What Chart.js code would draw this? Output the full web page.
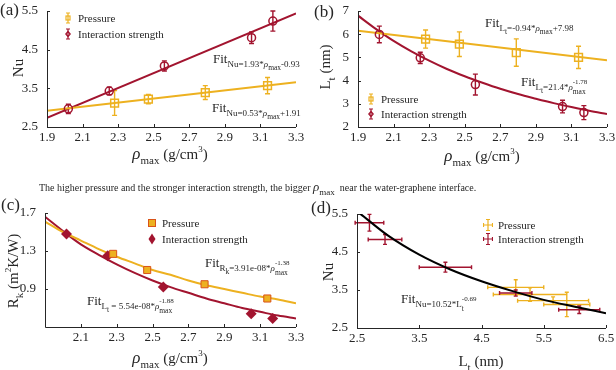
<!DOCTYPE html>
<html>
<head>
<meta charset="utf-8">
<title>rho_max vs Nu, Lt and Rk</title>
<script src="https://cdn.jsdelivr.net/npm/chart.js@4.4.1/dist/chart.umd.min.js"></script>
<style>
  html, body { margin: 0; padding: 0; background: #fff; overflow: hidden; }
  #fig { position: relative; width: 616px; height: 370px; font-family: "Liberation Serif", "Times New Roman", serif; color: #262626; }
  #fig canvas { position: absolute; }
  .txt { position: absolute; white-space: nowrap; line-height: 1; z-index: 2; }
  .lbl { font-size: 17px; }
  .ttl { font-size: 15px; transform: translate(-50%, -50%); }
  .rot { transform: translate(-50%, -50%) rotate(-90deg); }
  .ttl i { font-size: 17px; }
  .ttl sub { font-size: 11px; vertical-align: -5px; line-height: 0; }
  .ttl sup { font-size: 9px; vertical-align: 7px; line-height: 0; }
  .fit { font-size: 13px; }
  .s1 { font-size: 9px; vertical-align: -4px; }
  .s2 { font-size: 7.5px; vertical-align: -3px; }
  .stk { display: inline-block; position: relative; width: 15px; height: 0; }
  .stk .up { position: absolute; left: 0; top: -11px; font-size: 7px; }
  .stk .dn { position: absolute; left: 0; top: -2px; font-size: 7.5px; }
  .leg { font-size: 11px; display: flex; align-items: center; height: 12px; }
  .leg svg { margin-right: 5px; }
  .cap { font-size: 10px; }
  .cap i { font-size: 13px; }
  .cap sub { font-size: 9px; vertical-align: -4px; line-height: 0; }
</style>
</head>
<body>
<div id="fig">
  <canvas id="pa"></canvas>
  <canvas id="pb"></canvas>
  <canvas id="pc"></canvas>
  <canvas id="pd"></canvas>

  <!-- panel letters -->
  <div class="txt lbl" style="left:0px;top:1px">(a)</div>
  <div class="txt lbl" style="left:314px;top:3px">(b)</div>
  <div class="txt lbl" style="left:1px;top:196px">(c)</div>
  <div class="txt lbl" style="left:311px;top:199px">(d)</div>

  <!-- axis titles -->
  <div class="txt ttl" style="left:170px;top:153px"><i>ρ</i><sub>max</sub> (g/cm<sup>3</sup>)</div>
  <div class="txt ttl rot" style="left:18px;top:68px">Nu</div>
  <div class="txt ttl" style="left:482px;top:155px"><i>ρ</i><sub>max</sub> (g/cm<sup>3</sup>)</div>
  <div class="txt ttl rot" style="left:325px;top:67px">L<sub>t</sub> (nm)</div>
  <div class="txt ttl" style="left:170px;top:357px"><i>ρ</i><sub>max</sub> (g/cm<sup>3</sup>)</div>
  <div class="txt ttl rot" style="left:13px;top:271px">R<sub>k</sub> (m<sup>2</sup>K/W)</div>
  <div class="txt ttl" style="left:481px;top:361px">L<sub>t</sub> (nm)</div>
  <div class="txt ttl rot" style="left:328px;top:272px">Nu</div>

  <!-- fit annotations -->
  <div class="txt fit" style="left:213px;top:52px">Fit<span class="s1">Nu=1.93*<i>ρ</i><span class="s2">max</span>-0.93</span></div>
  <div class="txt fit" style="left:212px;top:101px">Fit<span class="s1">Nu=0.53*<i>ρ</i><span class="s2">max</span>+1.91</span></div>
  <div class="txt fit" style="left:485px;top:16px">Fit<span class="s1">L<span class="s2">t</span>=-0.94*<i>ρ</i><span class="s2">max</span>+7.98</span></div>
  <div class="txt fit" style="left:521px;top:75px">Fit<span class="s1">L<span class="s2">t</span>=21.4*<i>ρ</i><span class="stk"><span class="up">-1.78</span><span class="dn">max</span></span></span></div>
  <div class="txt fit" style="left:205px;top:256px">Fit<span class="s1">R<span class="s2">k</span>=3.91e-08*<i>ρ</i><span class="stk"><span class="up">-1.38</span><span class="dn">max</span></span></span></div>
  <div class="txt fit" style="left:87px;top:294px">Fit<span class="s1">L<span class="s2">t</span> = 5.54e-08*<i>ρ</i><span class="stk"><span class="up">-1.88</span><span class="dn">max</span></span></span></div>
  <div class="txt fit" style="left:401px;top:292px">Fit<span class="s1">Nu=10.52*L<span class="stk"><span class="up">-0.69</span><span class="dn">t</span></span></span></div>

  <!-- legends -->
  <div class="txt leg" style="left:63px;top:12px"><svg width="10" height="12"><path d="M5 1V11M3 1H7M3 11H7" stroke="#EDB120" stroke-width="1.2" fill="none"/><rect x="3" y="4" width="4" height="4" fill="none" stroke="#EDB120" stroke-width="1.2"/></svg>Pressure</div>
  <div class="txt leg" style="left:63px;top:28px"><svg width="10" height="12"><path d="M5 1V11M3 1H7M3 11H7" stroke="#A2142F" stroke-width="1.2" fill="none"/><path d="M5 3.5L7.2 6L5 8.5L2.8 6Z" fill="none" stroke="#A2142F" stroke-width="1.2"/></svg>Interaction strength</div>

  <div class="txt leg" style="left:366px;top:93px"><svg width="10" height="12"><path d="M5 1V11M3 1H7M3 11H7" stroke="#EDB120" stroke-width="1.2" fill="none"/><rect x="3" y="4" width="4" height="4" fill="none" stroke="#EDB120" stroke-width="1.2"/></svg>Pressure</div>
  <div class="txt leg" style="left:366px;top:108px"><svg width="10" height="12"><path d="M5 1V11M3 1H7M3 11H7" stroke="#A2142F" stroke-width="1.2" fill="none"/><path d="M5 3.5L7.2 6L5 8.5L2.8 6Z" fill="none" stroke="#A2142F" stroke-width="1.2"/></svg>Interaction strength</div>

  <div class="txt leg" style="left:147px;top:217px"><svg width="10" height="12"><rect x="1.5" y="2.5" width="7" height="7" fill="#EDB120" stroke="#D95319" stroke-width="1"/></svg>Pressure</div>
  <div class="txt leg" style="left:147px;top:233px"><svg width="10" height="12"><path d="M5 0.5L8.5 6L5 11.5L1.5 6Z" fill="#A2142F"/></svg>Interaction strength</div>

  <div class="txt leg" style="left:483px;top:219px"><svg width="10" height="12"><path d="M5 0.5V11.5M0.5 6H9.5M3 0.5H7M3 11.5H7M0.5 4V8M9.5 4V8" stroke="#EDB120" stroke-width="1.2" fill="none"/></svg>Pressure</div>
  <div class="txt leg" style="left:483px;top:233px"><svg width="10" height="12"><path d="M5 0.5V11.5M0.5 6H9.5M3 0.5H7M3 11.5H7M0.5 4V8M9.5 4V8" stroke="#A2142F" stroke-width="1.2" fill="none"/></svg>Interaction strength</div>

  <!-- caption between the rows -->
  <div class="txt cap" style="left:39px;top:180px">The higher pressure and the stronger interaction strength, the bigger <i>ρ</i><sub>max</sub> &nbsp;near the water-graphene interface.</div>
</div>

<script>
const ink = '#262626';
const orange = '#EDB120';
const red = '#A2142F';
const serif = 'Liberation Serif';

// rho_max (g/cm3) of the two series, shared by (a), (b), (c)
const rhoPressure = [2.28, 2.47, 2.79, 3.14];
const rhoInteraction = [2.02, 2.25, 2.56, 3.05, 3.17];
const rhoTicks = ['1.9', '2.1', '2.3', '2.5', '2.7', '2.9', '3.1', '3.3'];
const rhoTicksC = ['2.1', '2.3', '2.5', '2.7', '2.9', '3.1', '3.3'];
const fitRhoEnds = [1.9, 3.3];
const fitRhoGrid = [1.9, 2.0, 2.1, 2.2, 2.3, 2.4, 2.5, 2.6, 2.7, 2.8, 2.9, 3.0, 3.1, 3.2, 3.3];

// (a) Nu
const nuPressure = [3.12, 3.22, 3.39, 3.57];
const nuPressureErr = [0.32, 0.12, 0.18, 0.21];
const nuInteraction = [2.97, 3.43, 4.08, 4.81, 5.24];
const nuInteractionErr = [0.12, 0.10, 0.13, 0.15, 0.26];
const nuFitPressure = [2.92, 3.66];
const nuFitInteraction = [2.74, 5.44];
const nuTicks = ['2.5', '3.5', '4.5', '5.5'];

// (b) Lt (nm)
const ltPressure = [5.79, 5.57, 5.21, 5.00];
const ltPressureErr = [0.39, 0.53, 0.59, 0.48];
const ltInteraction = [5.99, 4.98, 3.83, 2.88, 2.62];
const ltInteractionErr = [0.36, 0.24, 0.45, 0.27, 0.30];
const ltFitPressure = [6.15, 4.88];
const ltFitInteraction = [6.80, 6.23, 5.71, 5.26, 4.86, 4.50, 4.19, 3.91, 3.65, 3.42, 3.22, 3.03, 2.86, 2.70, 2.56];
const ltTicks = ['2', '3', '4', '5', '6', '7'];

// (c) Rk
const rkPressure = [1.27, 1.10, 0.95, 0.80];
const rkInteraction = [1.48, 1.25, 0.92, 0.64, 0.59];
const rkFitPressure = [1.61, 1.50, 1.41, 1.32, 1.24, 1.17, 1.10, 1.05, 0.99, 0.94, 0.90, 0.86, 0.82, 0.79, 0.75];
const rkFitInteraction = [1.66, 1.51, 1.37, 1.26, 1.16, 1.07, 0.99, 0.92, 0.86, 0.80, 0.75, 0.70, 0.66, 0.62, 0.59];
const rkTicks = ['0.9', '1.3', '1.7'];

// (d) Nu against Lt
const dLtPressure = [5.87, 5.65, 5.28, 5.05];
const dLtPressureErr = [0.37, 0.57, 0.59, 0.45];
const dNuPressure = [3.12, 3.22, 3.38, 3.57];
const dNuPressureErr = [0.32, 0.10, 0.18, 0.20];
const dLtInteraction = [6.07, 5.05, 3.92, 2.95, 2.70];
const dLtInteractionErr = [0.33, 0.26, 0.42, 0.27, 0.23];
const dNuInteraction = [2.98, 3.42, 4.10, 4.83, 5.27];
const dNuInteractionErr = [0.10, 0.08, 0.13, 0.13, 0.22];
const dFitLt = [2.55, 3.0, 3.5, 4.0, 4.5, 5.0, 5.5, 6.0, 6.5];
const dFitNu = [5.51, 4.93, 4.43, 4.04, 3.73, 3.47, 3.24, 3.06, 2.89];
const dLtTicks = ['2.5', '3.5', '4.5', '5.5', '6.5'];

const pts = (xs, ys) => xs.map((v, i) => ({ x: v, y: ys[i] }));

// error bars, drawn by the plugin below through the chart scales
const errorBars = {
  pa: [
    { x: rhoPressure, y: nuPressure, yErr: nuPressureErr, color: orange, cap: 2.5 },
    { x: rhoInteraction, y: nuInteraction, yErr: nuInteractionErr, color: red, cap: 2.5 }
  ],
  pb: [
    { x: rhoPressure, y: ltPressure, yErr: ltPressureErr, color: orange, cap: 2.5 },
    { x: rhoInteraction, y: ltInteraction, yErr: ltInteractionErr, color: red, cap: 2.5 }
  ],
  pd: [
    { x: dLtPressure, y: dNuPressure, xErr: dLtPressureErr, yErr: dNuPressureErr, color: orange, cap: 2 },
    { x: dLtInteraction, y: dNuInteraction, xErr: dLtInteractionErr, yErr: dNuInteractionErr, color: red, cap: 2 }
  ]
};

const framePlugin = {
  id: 'frame',
  beforeDatasetsDraw(chart) {
    const { ctx, scales: { x, y } } = chart;
    (errorBars[chart.canvas.id] || []).forEach(b => {
      ctx.save();
      ctx.strokeStyle = b.color;
      ctx.lineWidth = 1.4;
      ctx.beginPath();
      b.x.forEach((xv, i) => {
        const px = x.getPixelForValue(xv);
        const py = y.getPixelForValue(b.y[i]);
        if (b.yErr) {
          const top = y.getPixelForValue(b.y[i] + b.yErr[i]);
          const bot = y.getPixelForValue(b.y[i] - b.yErr[i]);
          ctx.moveTo(px, top); ctx.lineTo(px, bot);
          ctx.moveTo(px - b.cap, top); ctx.lineTo(px + b.cap, top);
          ctx.moveTo(px - b.cap, bot); ctx.lineTo(px + b.cap, bot);
        }
        if (b.xErr) {
          const l = x.getPixelForValue(xv - b.xErr[i]);
          const r = x.getPixelForValue(xv + b.xErr[i]);
          ctx.moveTo(l, py); ctx.lineTo(r, py);
          ctx.moveTo(l, py - b.cap); ctx.lineTo(l, py + b.cap);
          ctx.moveTo(r, py - b.cap); ctx.lineTo(r, py + b.cap);
        }
      });
      ctx.stroke();
      ctx.restore();
    });
  },
  afterDraw(chart) {
    // left and bottom axis lines with small inward ticks
    const { ctx, chartArea: a, scales: { x, y } } = chart;
    ctx.save();
    ctx.strokeStyle = ink;
    ctx.lineWidth = 1;
    ctx.beginPath();
    ctx.moveTo(a.left + 0.5, a.top);
    ctx.lineTo(a.left + 0.5, a.bottom + 0.5);
    ctx.lineTo(a.right, a.bottom + 0.5);
    x.ticks.forEach(t => {
      const p = Math.round(x.getPixelForValue(t.value)) + 0.5;
      ctx.moveTo(p, a.bottom); ctx.lineTo(p, a.bottom - 3);
    });
    y.ticks.forEach(t => {
      const p = Math.round(y.getPixelForValue(t.value)) + 0.5;
      ctx.moveTo(a.left, p); ctx.lineTo(a.left + 3, p);
    });
    ctx.stroke();
    ctx.restore();
  }
};

function axis(range, labels, isX, size) {
  return {
    type: 'linear',
    min: range[0],
    max: range[1],
    grid: { display: false, drawTicks: false },
    border: { display: false },
    afterBuildTicks: s => { s.ticks = labels.map(t => ({ value: Number(t) })); },
    afterFit: s => {
      if (isX) { s.height = size; s.paddingLeft = 0; s.paddingRight = 0; }
      else { s.width = size; s.paddingTop = 0; s.paddingBottom = 0; }
    },
    ticks: {
      callback: (v, i) => labels[i],
      color: ink,
      font: { family: serif, size: 13 },
      padding: isX ? 3 : 9,
      maxRotation: 0,
      autoSkip: false
    }
  };
}

// box = canvas [left, top, w, h] in page px, area = plot [left, top, right, bottom]
function panel(id, box, area, xRange, xLabels, yRange, yLabels, datasets) {
  const cv = document.getElementById(id);
  cv.style.left = box[0] + 'px';
  cv.style.top = box[1] + 'px';
  cv.width = box[2];
  cv.height = box[3];
  return new Chart(cv, {
    type: 'scatter',
    data: { datasets },
    options: {
      responsive: false,
      animation: false,
      events: [],
      layout: { padding: { left: 0, top: area[1] - box[1], right: box[0] + box[2] - area[2], bottom: 0 } },
      plugins: { legend: { display: false }, tooltip: { enabled: false } },
      scales: {
        x: axis(xRange, xLabels, true, box[1] + box[3] - area[3]),
        y: axis(yRange, yLabels, false, area[0] - box[0])
      }
    },
    plugins: [framePlugin]
  });
}

function fitLine(xs, ys, color) {
  return { data: pts(xs, ys), showLine: true, pointRadius: 0, borderColor: color, borderWidth: 2,
           cubicInterpolationMode: 'monotone', order: 2 };
}
function hollow(xs, ys, color, style, r) {
  return { data: pts(xs, ys), pointStyle: style, pointRadius: r, pointBorderWidth: 1.5,
           borderColor: color, backgroundColor: 'rgba(0,0,0,0)', order: 1 };
}

panel('pa', [0, 0, 308, 150], [47, 11, 296, 127], [1.9, 3.3], rhoTicks, [2.5, 5.5], nuTicks, [
  fitLine(fitRhoEnds, nuFitPressure, orange),
  fitLine(fitRhoEnds, nuFitInteraction, red),
  hollow(rhoPressure, nuPressure, orange, 'rect', 5.5),
  hollow(rhoInteraction, nuInteraction, red, 'circle', 4)
]);

panel('pb', [308, 0, 308, 150], [358, 11, 607, 127], [1.9, 3.3], rhoTicks, [2, 7], ltTicks, [
  fitLine(fitRhoEnds, ltFitPressure, orange),
  fitLine(fitRhoGrid, ltFitInteraction, red),
  hollow(rhoPressure, ltPressure, orange, 'rect', 5.5),
  hollow(rhoInteraction, ltInteraction, red, 'circle', 4)
]);

panel('pc', [0, 195, 308, 155], [45, 213, 296, 327], [1.9, 3.3], rhoTicksC, [0.5, 1.7], rkTicks, [
  fitLine(fitRhoGrid, rkFitPressure, orange),
  fitLine(fitRhoGrid, rkFitInteraction, red),
  { data: pts(rhoPressure, rkPressure), pointStyle: 'rect', pointRadius: 5, pointBorderWidth: 1,
    borderColor: '#D95319', backgroundColor: orange, order: 1 },
  { data: pts(rhoInteraction, rkInteraction), pointStyle: 'rectRot', pointRadius: 5.5, pointBorderWidth: 0,
    borderColor: red, backgroundColor: red, order: 1 }
]);

panel('pd', [308, 195, 308, 155], [357, 214, 606, 328], [2.5, 6.5], dLtTicks, [2.5, 5.5], nuTicks, [
  fitLine(dFitLt, dFitNu, '#000'),
  { data: pts(dLtPressure, dNuPressure), pointRadius: 0, order: 1 },
  { data: pts(dLtInteraction, dNuInteraction), pointRadius: 0, order: 1 }
]);
</script>
</body>
</html>
